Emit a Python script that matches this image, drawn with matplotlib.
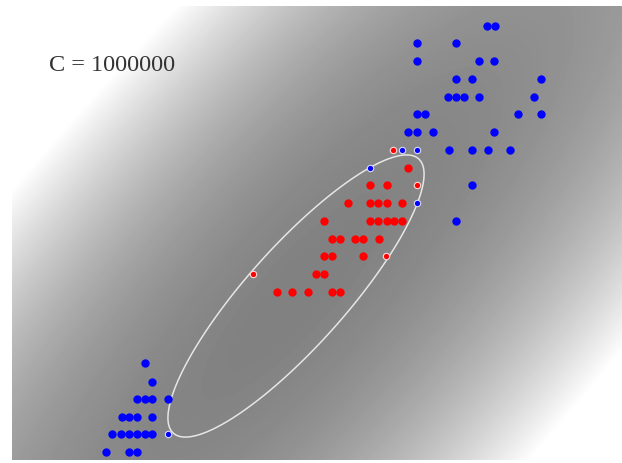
import numpy as np
import matplotlib
matplotlib.use("Agg")
import matplotlib.pyplot as plt

# point positions (screen-like coords: x right, y down)
blue_pts = [
    (487, 26), (495, 26),
    (417, 43), (456, 43),
    (417, 61), (479, 61), (494, 61),
    (456, 79), (472, 79), (541, 79),
    (448, 97), (456, 97), (464, 97), (479, 97), (534, 97),
    (417, 114), (425, 114), (518, 114), (541, 114),
    (408, 132), (417, 132), (433, 132), (494, 132),
    (449, 150), (472, 150), (488, 150), (510, 150),
    (472, 185),
    (456, 221),
    (145, 363),
    (152, 382),
    (137, 399), (145, 399), (152, 399), (168, 399),
    (122, 417), (129, 417), (137, 417), (152, 417),
    (112, 434), (121, 434), (129, 434), (137, 434), (145, 434), (152, 434),
    (106, 452), (129, 452), (137, 452),
]
blue_sv = [(402, 150), (417, 150), (370, 168), (417, 203), (168, 434)]

red_pts = [
    (408, 168),
    (370, 185), (387, 185),
    (348, 203), (370, 203), (378, 203), (387, 203), (402, 203),
    (324, 221), (370, 221), (378, 221), (387, 221), (394, 221), (402, 221),
    (332, 239), (340, 239), (355, 239), (363, 239), (379, 239),
    (324, 256), (332, 256), (363, 256),
    (316, 274), (324, 274),
    (277, 292), (292, 292), (308, 292), (332, 292), (340, 292),
]
red_sv = [(393, 150), (417, 185), (386, 256), (253, 274)]

# decision boundary (ellipse)
center = (296, 296)
semi_major = 184.0
semi_minor = 49.5
angle_deg = 48.2
label = "C = 1000000"

xmin, xmax, ymin, ymax = 12, 622, 6, 460

fig = plt.figure(figsize=(6.22, 4.63), dpi=100)
ax = fig.add_axes([12 / 622, 3 / 463, 610 / 622, 454 / 463])

# quadratic decision function on a grid
xs = np.arange(xmin, xmax) + 0.5
ys = np.arange(ymin, ymax) + 0.5
X, Y = np.meshgrid(xs, ys)
th = np.deg2rad(angle_deg)
dx, dy = X - center[0], Y - center[1]
u = dx * np.cos(th) - dy * np.sin(th)
v = dx * np.sin(th) + dy * np.cos(th)
F = 1 - (u / semi_major) ** 2 - (v / semi_minor) ** 2

ax.imshow(-F, cmap="gray", vmin=-35, vmax=32, extent=(xmin, xmax, ymax, ymin),
          origin="upper", interpolation="bilinear", aspect="auto")
ax.contour(X, Y, F, levels=[0], colors="#e6e6e6", linewidths=1.1)

b = np.array(blue_pts)
r = np.array(red_pts)
bs = np.array(blue_sv)
rs = np.array(red_sv)
ax.plot(b[:, 0], b[:, 1], "o", color="#0000ff", ms=6.0, mew=0)
ax.plot(r[:, 0], r[:, 1], "o", color="#ff0000", ms=6.0, mew=0)
ax.plot(bs[:, 0], bs[:, 1], "o", color="#0000ff", ms=4.6, mec="#d8d8ff", mew=0.8)
ax.plot(rs[:, 0], rs[:, 1], "o", color="#ff0000", ms=4.6, mec="#ffd8d8", mew=0.8)

ax.text(49, 66, label, fontsize=17.5, family="Liberation Serif", color="#333333",
        va="center", ha="left")

ax.set_xlim(xmin, xmax)
ax.set_ylim(ymax, ymin)
ax.axis("off")

fig.savefig("out.png", dpi=100)
